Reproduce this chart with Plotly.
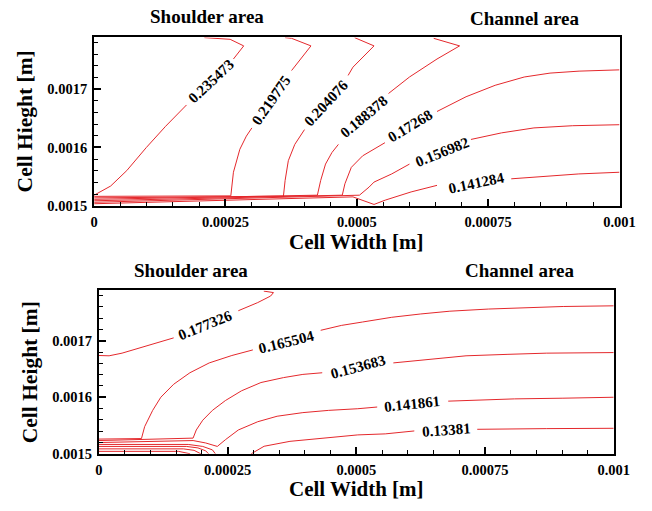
import plotly.graph_objects as go

# ---------------- data: upper panel (x in m, y in m) ----------------
top_levels = ["0.235473", "0.219775", "0.204076", "0.188378", "0.17268", "0.156982", "0.141284"]

top_x_1 = [0.0, 0.0000314, 0.0000622, 0.0000991, 0.000136, 0.0001758, None, 0.0002651, 0.0002847, 0.0002589, 0.0002098]
top_y_1 = [0.0015181, 0.0015338, 0.0015604, 0.0015997, 0.0016364, 0.001673, None, 0.0017519, 0.0017744, 0.0017857, 0.0017886]
top_x_2 = [0.0, 0.0002601, 0.0002651, 0.0002773, 0.0002897, 0.0003002, None, 0.0003758, 0.0004127, 0.0003758, 0.0003635]
top_y_2 = [0.0015161, 0.0015169, 0.0015575, 0.0015969, 0.0016195, 0.0016336, None, 0.0017321, 0.0017744, 0.0017874, 0.0017886]
top_x_3 = [0.0, 0.0003603, 0.0003635, 0.0003696, 0.0003819, 0.0004004, None, 0.0004834, 0.0004926, 0.0005327, 0.0004958]
top_y_3 = [0.0015135, 0.0015164, 0.0015434, 0.0015773, 0.0016053, 0.0016307, None, 0.0017237, 0.0017379, 0.0017744, 0.0017886]
top_x_4 = [0.0, 0.0004249, 0.0004312, 0.0004404, 0.0004526, 0.0004649, None, 0.0005603, 0.0006002, 0.0006526, 0.0006956, 0.0006463]
top_y_4 = [0.001511, 0.0015181, 0.0015434, 0.0015715, 0.0015913, 0.0016053, None, 0.0016927, 0.001721, 0.0017519, 0.0017744, 0.0017874]
top_x_5 = [0.0, 0.0004723, 0.0004773, 0.0004895, 0.0005111, 0.0005387, 0.0005535, None, 0.0006526, 0.0007079, 0.0007633, 0.0008186, 0.0008677, 0.000923, 0.001]
top_y_5 = [0.0015085, 0.0015181, 0.0015377, 0.0015659, 0.0015857, 0.0015997, 0.0016082, None, 0.0016618, 0.0016871, 0.0017068, 0.001721, 0.0017277, 0.0017311, 0.0017333]
top_x_6 = [0.0, 0.000505, 0.0005234, 0.0005327, 0.0005664, 0.0006002, None, 0.0007172, 0.0007755, 0.0008371, 0.0009109, 0.001]
top_y_6 = [0.0015059, 0.0015181, 0.0015321, 0.0015406, 0.0015546, 0.0015715, None, 0.0016138, 0.0016251, 0.0016336, 0.0016374, 0.0016391]
top_x_7 = [0.0, 0.0004926, 0.0005327, 0.000554, 0.0006033, 0.0006526, None, 0.0007939, 0.0008616, 0.0009225, 0.001]
top_y_7 = [0.0015034, 0.0015152, 0.0015022, 0.0015096, 0.0015237, 0.001535, None, 0.0015462, 0.0015507, 0.0015546, 0.0015575]

top_label_x = [0.0002232, 0.0003373, 0.0004419, 0.0005129, 0.0006015, 0.0006624, 0.0007279]
top_label_y = [0.0017139, 0.0016814, 0.0016758, 0.0016522, 0.0016361, 0.001593, 0.0015397]
top_label_angle = [-43, -55, -47, -40, -31, -22, -12]

# ---------------- data: lower panel ----------------
bot_levels = ["0.177326", "0.165504", "0.153683", "0.141861", "0.13381"]

bot_x_1 = [0.0, 0.0000196, 0.0000448, 0.0000887, 0.0001201, 0.0001451, None, 0.0002707, 0.0003084, 0.0003334, 0.000339, 0.0003202]
bot_y_1 = [0.0016738, 0.0016733, 0.001678, 0.0016894, 0.0016981, 0.001705, None, 0.001753, 0.0017674, 0.001779, 0.0017851, 0.0017877]
bot_x_2 = [0.0, 0.0000825, 0.0000887, 0.0001043, 0.0001201, 0.0001451, 0.0001766, 0.0002142, 0.0002581, 0.0002989, None,
           0.0004307, 0.0004708, 0.0005122, 0.0005687, 0.0006252, 0.0006817, 0.000757, 0.0008379, 0.0009019, 0.001]
bot_y_2 = [0.001526, 0.0015269, 0.001548, 0.0015768, 0.0016, 0.001623, 0.0016433, 0.0016607, 0.0016738, 0.0016837, None,
           0.0017184, 0.001727, 0.0017331, 0.0017414, 0.0017473, 0.0017522, 0.001756, 0.0017582, 0.0017605, 0.0017617]
bot_x_3 = [0.0, 0.0001828, 0.000189, 0.0002016, 0.0002204, 0.0002455, 0.0002769, 0.0003146, 0.0003584, 0.0003961, 0.0004337, None,
           0.0005719, 0.0006502, 0.0007131, 0.0007946, 0.0008699, 0.001]
bot_y_3 = [0.0015234, 0.0015277, 0.0015421, 0.0015594, 0.0015768, 0.0015941, 0.0016114, 0.001626, 0.0016347, 0.0016404, 0.0016433, None,
           0.0016607, 0.0016681, 0.0016733, 0.0016759, 0.001678, 0.001679]
bot_x_4 = [0.0, 0.0001828, 0.0002073, 0.0002299, 0.0002455, 0.0002707, 0.0003084, 0.000346, 0.0003961, 0.0004463, 0.0005028, 0.0005405, None,
           0.0006785, 0.0007443, 0.0008072, 0.0009013, 0.001]
bot_y_4 = [0.0015199, 0.0015234, 0.0015191, 0.001513, 0.0015248, 0.0015421, 0.0015567, 0.0015664, 0.0015728, 0.0015768, 0.0015797, 0.0015827, None,
           0.0015931, 0.0015953, 0.0015971, 0.0015983, 0.0016]
bot_x_5 = [0.0002957, 0.0003208, 0.000371, 0.0004337, 0.0005028, 0.0005561, 0.0006126, None, 0.0007349, 0.0008072, 0.0008699, 0.001]
bot_y_5 = [0.0015, 0.0015133, 0.001522, 0.0015277, 0.0015334, 0.0015352, 0.0015404, None, 0.0015433, 0.0015433, 0.0015445, 0.0015451]

# unlabeled low-level contours packed near the lower-left corner
bot_x_a = [0.0, 0.0001734, 0.0002016, 0.0002204, 0.0002261]
bot_y_a = [0.0015165, 0.0015165, 0.001513, 0.0015069, 0.0015]
bot_x_b = [0.0, 0.0001696, 0.0001922, 0.0002073, 0.0002129]
bot_y_b = [0.001513, 0.001513, 0.0015104, 0.0015052, 0.0015]
bot_x_c = [0.0, 0.000164, 0.0001847, 0.0001978]
bot_y_c = [0.0015087, 0.0015087, 0.0015061, 0.0015]
bot_x_d = [0.0, 0.0001546, 0.0001771]
bot_y_d = [0.0015043, 0.0015043, 0.0015]

bot_label_x = [0.0002073, 0.0003648, 0.0005028, 0.0006082, 0.0006754]
bot_label_y = [0.001727, 0.0016981, 0.0016534, 0.0015872, 0.0015421]
bot_label_angle = [-22, -14, -15, -6, -4]

x_tickvals = [0, 0.00025, 0.0005, 0.00075, 0.001]
x_ticktext = ["0", "0.00025", "0.0005", "0.00075", "0.001"]
y_tickvals = [0.0015, 0.0016, 0.0017]
y_ticktext = ["0.0015", "0.0016", "0.0017"]

# ---------------- figure ----------------
FONT = "Liberation Serif, Times New Roman, serif"
RED = "rgb(228,40,44)"
W, H = 652, 511

fig = go.Figure()

top_lines = [(top_x_1, top_y_1), (top_x_2, top_y_2), (top_x_3, top_y_3), (top_x_4, top_y_4),
             (top_x_5, top_y_5), (top_x_6, top_y_6), (top_x_7, top_y_7)]
for (xs, ys), lev in zip(top_lines, top_levels):
    fig.add_trace(go.Scatter(x=xs, y=ys, mode="lines", line=dict(color=RED, width=1),
                             name=lev, xaxis="x", yaxis="y", hoverinfo="skip"))

bot_lines = [(bot_x_1, bot_y_1), (bot_x_2, bot_y_2), (bot_x_3, bot_y_3), (bot_x_4, bot_y_4), (bot_x_5, bot_y_5),
             (bot_x_a, bot_y_a), (bot_x_b, bot_y_b), (bot_x_c, bot_y_c), (bot_x_d, bot_y_d)]
for i, (xs, ys) in enumerate(bot_lines):
    fig.add_trace(go.Scatter(x=xs, y=ys, mode="lines", line=dict(color=RED, width=1),
                             name=bot_levels[i] if i < len(bot_levels) else "", xaxis="x2", yaxis="y2",
                             hoverinfo="skip"))

LABEL_SIZE = 15
ann = []
for x, y, a, t in zip(top_label_x, top_label_y, top_label_angle, top_levels):
    ann.append(dict(x=x, y=y, xref="x", yref="y", text=t, textangle=a, showarrow=False,
                    xanchor="center", yanchor="middle",
                    font=dict(family=FONT, size=LABEL_SIZE, color="black", weight="bold")))
for x, y, a, t in zip(bot_label_x, bot_label_y, bot_label_angle, bot_levels):
    ann.append(dict(x=x, y=y, xref="x2", yref="y2", text=t, textangle=a, showarrow=False,
                    xanchor="center", yanchor="middle",
                    font=dict(family=FONT, size=LABEL_SIZE, color="black", weight="bold")))


def paper_text(px, py, text, size, angle=0):
    return dict(x=px / W, y=1 - py / H, xref="paper", yref="paper", text=text, showarrow=False,
                textangle=angle, xanchor="center", yanchor="middle",
                font=dict(family=FONT, size=size, color="black", weight="bold"))


ann += [
    paper_text(209, 17, "Shoulder area", 19),
    paper_text(537, 19, "Channel area", 19),
    paper_text(193, 275, "Shoulder area", 19),
    paper_text(532, 275, "Channel area", 19),
    paper_text(364, 246, "Cell Width [m]", 21),
    paper_text(364, 497, "Cell Width [m]", 21),
    paper_text(22, 123, "Cell Hieght [m]", 21.5, -90),
    paper_text(27, 378, "Cell Height [m]", 21.5, -90),
]

tickfont = dict(family=FONT, size=14.5, color="black", weight="bold")


def xaxis(domain, anchor):
    return dict(domain=domain, anchor=anchor, range=[0, 0.001], tickvals=x_tickvals, ticktext=x_ticktext,
                ticks="inside", ticklen=7, tickwidth=2, tickcolor="black", tickfont=tickfont, ticklabelstandoff=2,
                showline=True, linecolor="black", linewidth=2, mirror=True, showgrid=False, zeroline=False,
                minor=dict(dtick=0.00005, tick0=0, ticks="inside", ticklen=4, tickwidth=1, tickcolor="black"))


def yaxis(domain, anchor):
    return dict(domain=domain, anchor=anchor, range=[0.0015, 0.001789], tickvals=y_tickvals, ticktext=y_ticktext,
                ticks="inside", ticklen=7, tickwidth=2, tickcolor="black", tickfont=tickfont, ticklabelstandoff=2,
                showline=True, linecolor="black", linewidth=2, mirror=True, showgrid=False, zeroline=False,
                minor=dict(dtick=0.00002, tick0=0.0015, ticks="inside", ticklen=4, tickwidth=1, tickcolor="black"))


fig.update_layout(
    width=W, height=H, margin=dict(l=0, r=0, t=0, b=0),
    paper_bgcolor="white", plot_bgcolor="white", showlegend=False,
    xaxis=xaxis([93 / W, 635 / W], "y"),
    yaxis=yaxis([1 - 209 / H, 1 - 38 / H], "x"),
    xaxis2=xaxis([98 / W, 629 / W], "y2"),
    yaxis2=yaxis([1 - 461 / H, 1 - 295 / H], "x2"),
    annotations=ann,
)

fig.write_html("out.html")
